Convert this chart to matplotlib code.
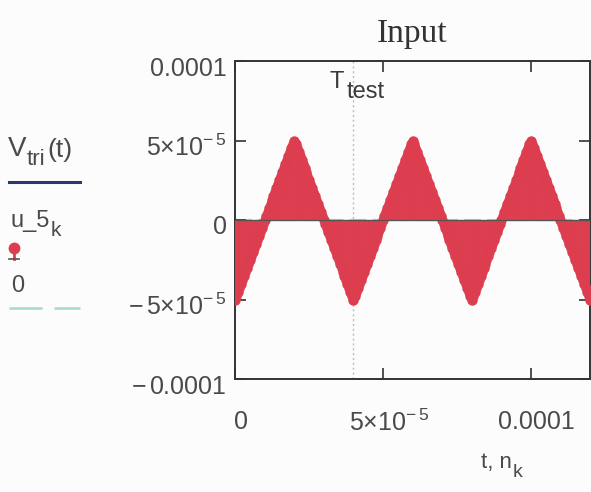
import matplotlib
matplotlib.use("Agg")
import matplotlib.pyplot as plt
import matplotlib.transforms as mtransforms
from matplotlib.lines import Line2D
import numpy as np

plt.rcParams['font.family'] = ['Liberation Sans', 'DejaVu Sans']
plt.rcParams['mathtext.fontset'] = 'custom'
plt.rcParams['mathtext.rm'] = 'Liberation Sans'
plt.rcParams['mathtext.it'] = 'Liberation Sans:italic'

# ---- data -------------------------------------------------------------
# triangle wave corners (s, V)
tri_t = [0.0, 2e-5, 4e-5, 6e-5, 8e-5, 1e-4, 1.2e-4]
tri_v = [-5e-5, 5e-5, -5e-5, 5e-5, -5e-5, 5e-5, -5e-5]

# sampled input u_5 (in units of 1e-7), one period of 80 samples
u5_period = [-500, -475, -450, -425, -400, -375, -350, -325, -300, -275,
             -250, -225, -200, -175, -150, -125, -100, -75, -50, -25,
             0, 25, 50, 75, 100, 125, 150, 175, 200, 225,
             250, 275, 300, 325, 350, 375, 400, 425, 450, 475,
             500, 475, 450, 425, 400, 375, 350, 325, 300, 275,
             250, 225, 200, 175, 150, 125, 100, 75, 50, 25,
             0, -25, -50, -75, -100, -125, -150, -175, -200, -225,
             -250, -275, -300, -325, -350, -375, -400, -425, -450, -475]
u5_scaled = u5_period * 3 + [-500]
sample_step = 5e-7
T_test = 4e-5

x_ticks = [0.0, 5e-5, 1e-4]
x_ticklabels = ['0', r'$\mathregular{5{\times}10^{-\,5}}$', '0.0001']
y_ticks = [-1e-4, -5e-5, 0.0, 5e-5, 1e-4]
y_ticklabels = [r'$\mathregular{-\,0.0001}$', r'$\mathregular{-\,5{\times}10^{-\,5}}$', '0',
                r'$\mathregular{5{\times}10^{-\,5}}$', '0.0001']

n_k = np.arange(len(u5_scaled)) * sample_step
u5 = np.array(u5_scaled) * 1e-7

# ---- figure -----------------------------------------------------------
W, H = 591, 492
fig = plt.figure(figsize=(W / 100, H / 100), dpi=100, facecolor='#fcfcfc')
ax = fig.add_axes([235 / W, 1 - 379 / H, 355 / W, 318 / H])
ax.set_facecolor('#fcfcfc')

red = '#dd3e4f'
ax.plot(tri_t, tri_v, color='#2b3a6e', lw=2, zorder=2)
ax.vlines(n_k, 0, u5, color=red, lw=2.0, zorder=3)
ax.plot(n_k, u5, 'o', color=red, ms=7.5, mec=red, mew=0, zorder=4)
ax.axhline(0, color='#a6d9c6', lw=1.5, ls=(0, (8, 3)), zorder=1)
ax.axhline(0, color='#555555', lw=1.0, zorder=5)
ax.axvline(T_test, color='#bdbdbd', lw=1.0, ls=(0, (1.5, 2)), zorder=1.5)

# T_test marker label: "T" with a lowered "test"
dark = '#3a3a3a'
ax.text(3.2e-5, 0.83e-4, 'T', fontsize=17, color=dark, ha='left', va='baseline', zorder=6)
ax.text(3.2e-5, 0.83e-4, 'test', fontsize=17, color=dark, ha='left', va='baseline', zorder=6,
        transform=ax.transData + mtransforms.ScaledTranslation(17 / 100, -10 / 100,
                                                                fig.dpi_scale_trans))

ax.set_xlim(0, 1.2e-4)
ax.set_ylim(-1e-4, 1e-4)
ax.set_xticks(x_ticks)
ax.set_xticklabels(x_ticklabels)
ax.set_yticks(y_ticks)
ax.set_yticklabels(y_ticklabels)
ax.tick_params(axis='both', direction='in', length=8, width=1.2, color='#333333',
               labelsize=18, labelcolor='#4a4a4a', top=True, right=True)
ax.tick_params(axis='x', pad=22)
ax.tick_params(axis='y', pad=6)
for lab in ax.get_xticklabels():
    lab.set_transform(lab.get_transform() + mtransforms.ScaledTranslation(6 / 100, 0, fig.dpi_scale_trans))
for lab in ax.get_yticklabels():
    lab.set_transform(lab.get_transform() + mtransforms.ScaledTranslation(0, -5 / 100, fig.dpi_scale_trans))
for sp in ax.spines.values():
    sp.set_color('#333333')
    sp.set_linewidth(1.4)

ax.set_title('Input', fontsize=24, family=['Liberation Serif'], color='#333333', pad=14,
             x=0.5)


def px_text(x, y, s, size=16, **kw):
    """Place text at pixel position (x from left, y = baseline from top)."""
    fig.text(x / W, 1 - y / H, s, fontsize=size, color='#4a4a4a', ha='left',
             va='baseline', **kw)


# axis title t, n_k
px_text(481, 468, 't, n', size=16)
px_text(513, 477, 'k', size=14)

# ---- legend on the left ----------------------------------------------
px_text(8, 156, 'V', size=20)
px_text(27, 165, 'tri', size=16)
px_text(47, 157, '(t)', size=19)
fig.add_artist(Line2D([9 / W, 80 / W], [1 - 182 / H] * 2, color='#2b3a6e', lw=2.2,
                      transform=fig.transFigure))
px_text(11, 227, 'u_5', size=17)
px_text(51, 236, 'k', size=15)
fig.add_artist(Line2D([14 / W], [1 - 248 / H], marker='o', ms=7.5, color=red, mec=red,
                      transform=fig.transFigure))
fig.add_artist(Line2D([14 / W, 14 / W], [1 - 248 / H, 1 - 259 / H], color=red, lw=2,
                      transform=fig.transFigure))
fig.add_artist(Line2D([9 / W, 19 / W], [1 - 259 / H] * 2, color='#555555', lw=1.2,
                      transform=fig.transFigure))
px_text(11, 292, '0', size=17)
fig.add_artist(Line2D([9 / W, 80 / W], [1 - 308 / H] * 2, color='#a6d9c6', lw=1.8,
                      ls=(0, (13.2, 4.8)), transform=fig.transFigure))

fig.savefig('out.png', dpi=100, facecolor=fig.get_facecolor())
